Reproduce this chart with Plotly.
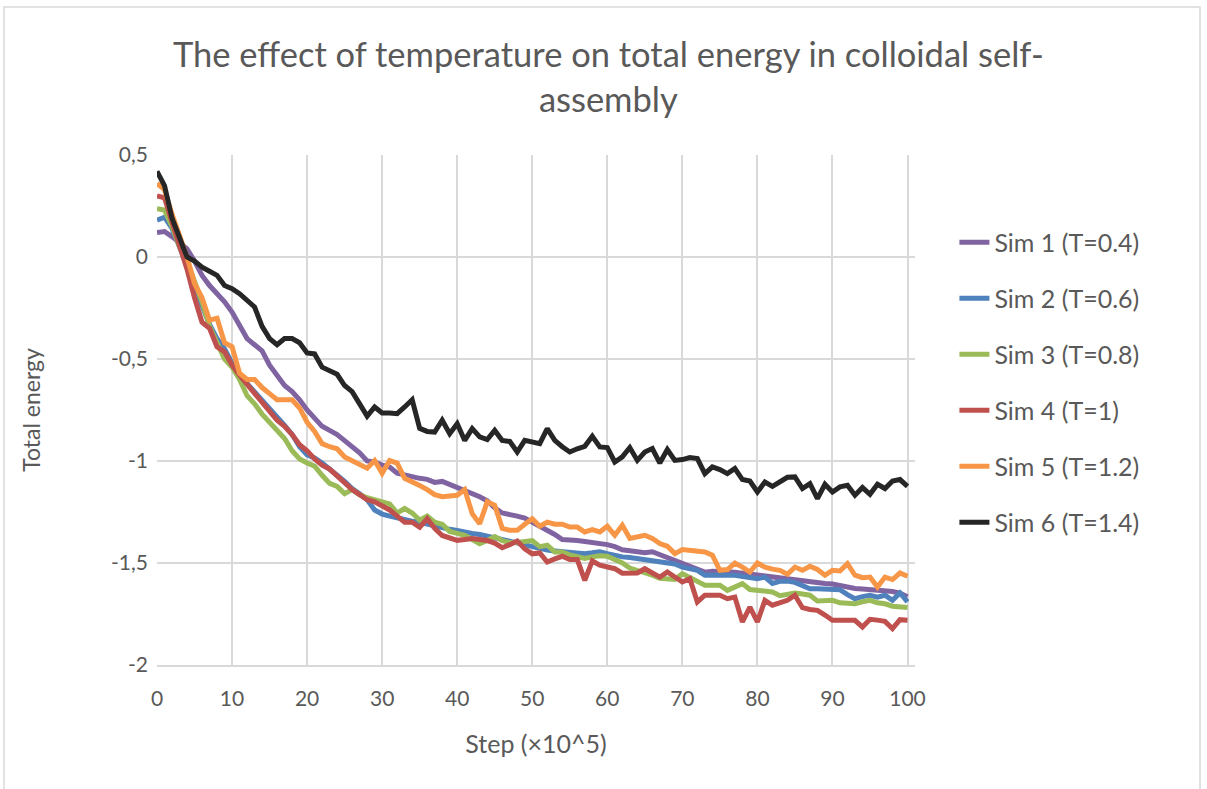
import plotly.graph_objects as go

steps = list(range(101))

sim1 = [0.12, 0.125, 0.10, 0.07, 0.04, -0.02, -0.09, -0.14, -0.18, -0.22,
        -0.27, -0.33, -0.40, -0.43, -0.46, -0.53, -0.58, -0.63, -0.66, -0.70,
        -0.75, -0.79, -0.83, -0.85, -0.87, -0.90, -0.93, -0.96, -1.00, -1.005,
        -1.02, -1.03, -1.06, -1.07, -1.075, -1.085, -1.09, -1.105, -1.10, -1.115,
        -1.125, -1.14, -1.155, -1.175, -1.195, -1.23, -1.255, -1.26, -1.27, -1.28,
        -1.30, -1.315, -1.34, -1.36, -1.385, -1.385, -1.39, -1.395, -1.40, -1.40,
        -1.41, -1.42, -1.435, -1.44, -1.445, -1.45, -1.445, -1.46, -1.47, -1.49,
        -1.50, -1.515, -1.53, -1.545, -1.54, -1.54, -1.545, -1.545, -1.55, -1.555,
        -1.555, -1.56, -1.57, -1.575, -1.578, -1.58, -1.585, -1.59, -1.60, -1.60,
        -1.603, -1.61, -1.62, -1.625, -1.627, -1.63, -1.632, -1.635, -1.64, -1.648,
        -1.665]

sim2 = [0.18, 0.195, 0.14, 0.05, -0.03, -0.13, -0.24, -0.33, -0.40, -0.45,
        -0.52, -0.58, -0.62, -0.66, -0.70, -0.74, -0.78, -0.825, -0.87, -0.93,
        -0.97, -0.985, -1.01, -1.037, -1.07, -1.10, -1.135, -1.16, -1.19, -1.24,
        -1.26, -1.27, -1.28, -1.29, -1.295, -1.30, -1.31, -1.32, -1.33, -1.335,
        -1.34, -1.35, -1.355, -1.36, -1.368, -1.372, -1.38, -1.389, -1.397, -1.41,
        -1.42, -1.43, -1.437, -1.441, -1.444, -1.446, -1.45, -1.454, -1.45, -1.445,
        -1.454, -1.465, -1.47, -1.473, -1.478, -1.483, -1.49, -1.495, -1.495, -1.505,
        -1.52, -1.53, -1.536, -1.56, -1.562, -1.56, -1.56, -1.56, -1.567, -1.572,
        -1.577, -1.569, -1.60, -1.59, -1.588, -1.595, -1.61, -1.626, -1.626, -1.626,
        -1.63, -1.631, -1.655, -1.675, -1.665, -1.658, -1.667, -1.658, -1.683, -1.647,
        -1.69]

sim3 = [0.237, 0.23, 0.15, 0.05, -0.02, -0.12, -0.22, -0.34, -0.42, -0.50,
        -0.54, -0.60, -0.68, -0.72, -0.77, -0.81, -0.85, -0.89, -0.95, -0.99,
        -1.01, -1.025, -1.07, -1.11, -1.125, -1.16, -1.14, -1.165, -1.18, -1.19,
        -1.195, -1.21, -1.255, -1.233, -1.255, -1.29, -1.27, -1.30, -1.31, -1.345,
        -1.355, -1.365, -1.385, -1.405, -1.39, -1.37, -1.39, -1.40, -1.40, -1.395,
        -1.39, -1.42, -1.413, -1.446, -1.446, -1.46, -1.47, -1.478, -1.47, -1.465,
        -1.467, -1.485, -1.50, -1.525, -1.535, -1.544, -1.56, -1.575, -1.581, -1.581,
        -1.552, -1.57, -1.585, -1.609, -1.609, -1.609, -1.634, -1.62, -1.601, -1.63,
        -1.634, -1.638, -1.642, -1.66, -1.655, -1.647, -1.652, -1.658, -1.686, -1.685,
        -1.683, -1.695, -1.70, -1.70, -1.69, -1.683, -1.695, -1.70, -1.712, -1.715,
        -1.718]

sim4 = [0.30, 0.29, 0.17, 0.06, -0.06, -0.20, -0.32, -0.35, -0.44, -0.465,
        -0.53, -0.58, -0.625, -0.67, -0.71, -0.76, -0.80, -0.83, -0.87, -0.92,
        -0.95, -0.99, -1.02, -1.04, -1.075, -1.11, -1.14, -1.165, -1.19, -1.20,
        -1.22, -1.24, -1.27, -1.30, -1.30, -1.325, -1.283, -1.33, -1.365, -1.38,
        -1.389, -1.385, -1.38, -1.385, -1.39, -1.402, -1.425, -1.41, -1.392, -1.43,
        -1.455, -1.451, -1.495, -1.48, -1.467, -1.483, -1.483, -1.585, -1.49, -1.511,
        -1.52, -1.528, -1.55, -1.552, -1.549, -1.528, -1.55, -1.569, -1.544, -1.57,
        -1.593, -1.577, -1.691, -1.658, -1.66, -1.658, -1.675, -1.667, -1.789, -1.716,
        -1.789, -1.683, -1.707, -1.695, -1.683, -1.658, -1.719, -1.728, -1.732, -1.755,
        -1.781, -1.781, -1.781, -1.781, -1.814, -1.776, -1.78, -1.786, -1.822, -1.778,
        -1.781]

sim5 = [0.36, 0.33, 0.21, 0.10, 0.00, -0.13, -0.20, -0.31, -0.30, -0.42,
        -0.44, -0.57, -0.60, -0.60, -0.64, -0.67, -0.70, -0.70, -0.70, -0.74,
        -0.81, -0.855, -0.915, -0.93, -0.94, -0.98, -1.00, -1.015, -1.035, -0.998,
        -1.06, -0.998, -1.01, -1.085, -1.10, -1.12, -1.14, -1.165, -1.175, -1.17,
        -1.168, -1.14, -1.258, -1.307, -1.20, -1.217, -1.33, -1.34, -1.34, -1.31,
        -1.283, -1.32, -1.30, -1.31, -1.31, -1.324, -1.324, -1.348, -1.336, -1.348,
        -1.32, -1.364, -1.315, -1.38, -1.37, -1.364, -1.38, -1.405, -1.418, -1.454,
        -1.434, -1.438, -1.44, -1.446, -1.462, -1.536, -1.532, -1.50, -1.52, -1.544,
        -1.50, -1.52, -1.53, -1.536, -1.555, -1.52, -1.536, -1.516, -1.532, -1.56,
        -1.536, -1.539, -1.503, -1.56, -1.572, -1.569, -1.618, -1.569, -1.581, -1.549,
        -1.565]

sim6 = [0.42, 0.35, 0.19, 0.09, 0.00, -0.02, -0.05, -0.07, -0.09, -0.14,
        -0.155, -0.18, -0.21, -0.245, -0.34, -0.40, -0.43, -0.40, -0.40, -0.42,
        -0.47, -0.475, -0.54, -0.56, -0.575, -0.63, -0.66, -0.72, -0.78, -0.735,
        -0.765, -0.765, -0.768, -0.735, -0.70, -0.84, -0.855, -0.858, -0.80, -0.866,
        -0.817, -0.899, -0.841, -0.882, -0.895, -0.85, -0.899, -0.904, -0.956, -0.899,
        -0.905, -0.915, -0.841, -0.899, -0.93, -0.956, -0.94, -0.928, -0.879, -0.931,
        -0.934, -1.005, -0.98, -0.934, -0.997, -0.956, -0.939, -1.01, -0.944, -0.997,
        -0.993, -0.983, -0.988, -1.062, -1.029, -1.042, -1.062, -1.037, -1.091, -1.098,
        -1.152, -1.103, -1.124, -1.103, -1.08, -1.078, -1.135, -1.111, -1.184, -1.114,
        -1.152, -1.127, -1.119, -1.168, -1.13, -1.163, -1.114, -1.135, -1.098, -1.091,
        -1.124]

series_names = ["Sim 1 (T=0.4)", "Sim 2 (T=0.6)", "Sim 3 (T=0.8)",
                "Sim 4 (T=1)", "Sim 5 (T=1.2)", "Sim 6 (T=1.4)"]
series_values = [sim1, sim2, sim3, sim4, sim5, sim6]
series_colors = ["#8064A2", "#4F81BD", "#9BBB59", "#C0504D", "#F79646", "#262626"]

y_tickvals = [0.5, 0, -0.5, -1, -1.5, -2]
y_ticktext = ["0,5", "0", "-0,5", "-1", "-1,5", "-2"]
x_tickvals = list(range(0, 101, 10))

FONT = "Lato, 'Open Sans', sans-serif"
TXT = "#595959"
GRID = "#D9D9D9"

fig = go.Figure()
for i, (name, vals, col) in enumerate(zip(series_names, series_values, series_colors)):
    fig.add_trace(go.Scatter(
        x=steps, y=vals, mode="lines", name=name,
        line=dict(color=col, width=5), legendgroup=f"g{i}"))

fig.update_layout(
    width=1207, height=789,
    margin=dict(l=157, r=292, t=155, b=124),
    paper_bgcolor="white", plot_bgcolor="white",
    font=dict(family=FONT, color=TXT),
    title=dict(text="The effect of temperature on total energy in colloidal self-<br>assembly",
               x=0.504, xref="container", xanchor="center",
               y=1 - 67 / 789, yanchor="middle", yref="container",
               font=dict(size=34.5, color=TXT, family=FONT)),
    showlegend=True,
    legend=dict(x=1.052, xanchor="left", y=0.554, yanchor="middle",
                font=dict(size=25, color=TXT, family=FONT),
                tracegroupgap=20.5, bgcolor="rgba(0,0,0,0)", itemwidth=30),
    xaxis=dict(range=[0, 101], tickmode="array", tickvals=x_tickvals,
               showgrid=True, gridcolor=GRID, gridwidth=1.5,
               showline=True, linecolor=GRID, linewidth=1.5,
               zeroline=False, ticks="", ticklabelstandoff=14,
               tickfont=dict(size=21, color=TXT),
               title=dict(text="Step (×10^5)", font=dict(size=25, color=TXT), standoff=27)),
    yaxis=dict(range=[-2, 0.5], tickmode="array", tickvals=y_tickvals, ticktext=y_ticktext,
               showgrid=True, gridcolor=GRID, gridwidth=1.5,
               zeroline=False, ticks="", ticklabelstandoff=8,
               tickfont=dict(size=21, color=TXT),
               title=dict(text="Total energy", font=dict(size=23, color=TXT), standoff=64)),
    shapes=[dict(type="rect", xref="paper", yref="paper",
                 x0=(4 - 157) / 758, x1=(1200 - 157) / 758,
                 y0=(665 - 800) / 510, y1=(665 - 7) / 510,
                 line=dict(color=GRID, width=1.5), fillcolor="rgba(0,0,0,0)", layer="below")],
)

fig.write_html("out.html")
